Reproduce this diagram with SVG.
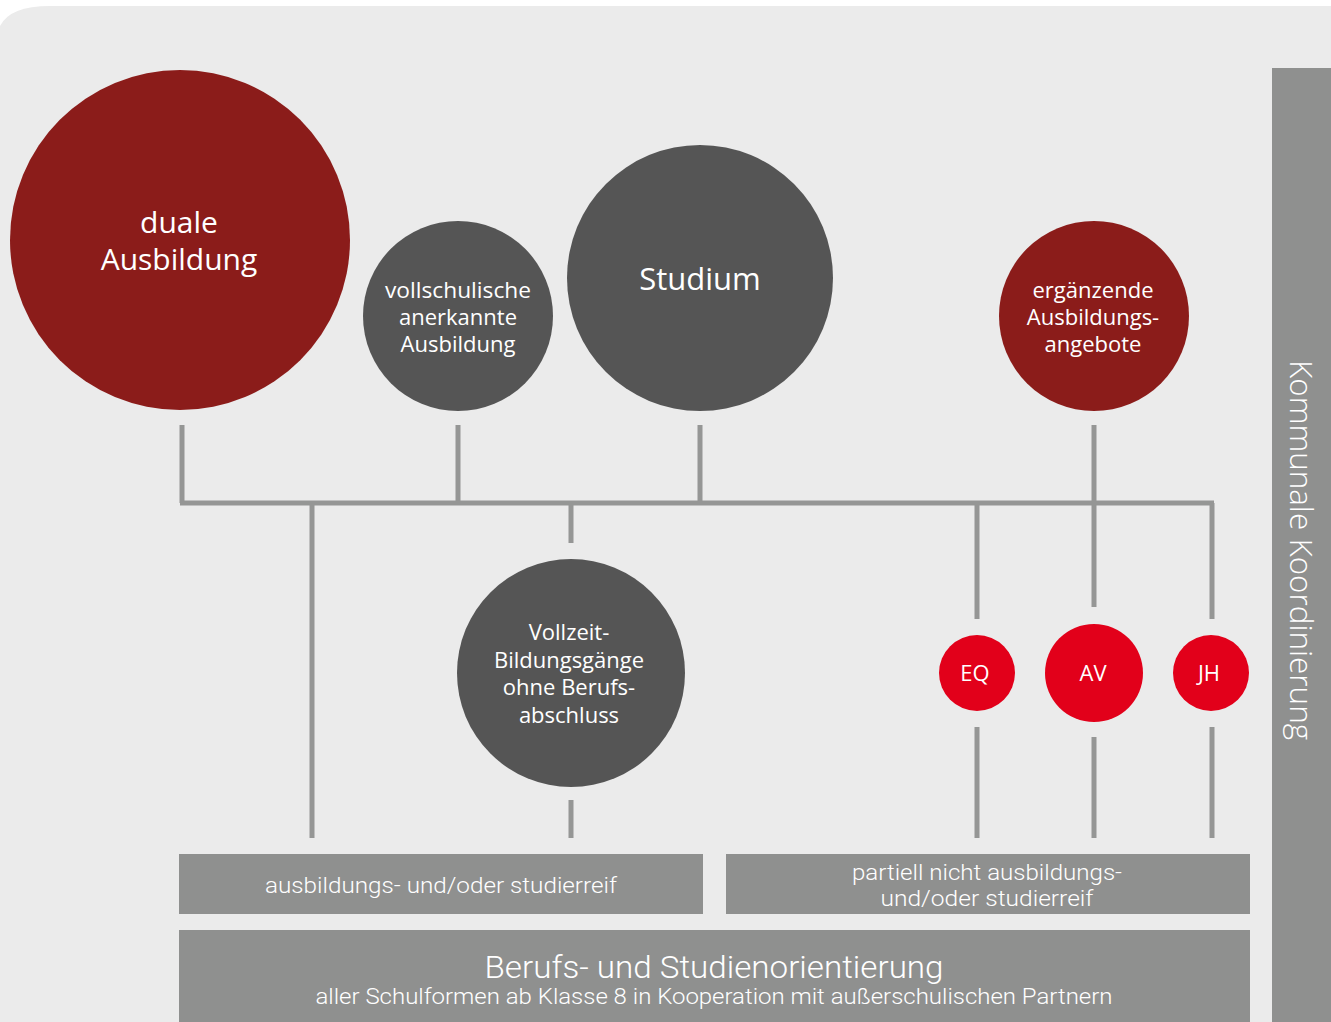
<svg xmlns="http://www.w3.org/2000/svg" width="1331" height="1022" viewBox="0 0 1331 1022">
<style>
.t{font-family:"Open Sans","Noto Sans","DejaVu Sans",sans-serif;fill:#ffffff;text-anchor:middle}
.b{font-family:Roboto,"Liberation Sans",sans-serif;font-weight:300;fill:#ffffff;text-anchor:middle}
.ln{stroke:#959695;stroke-width:5;fill:none}
.dark{fill:#8b1c1a}
.grey{fill:#555555}
.red{fill:#e2001a}
.box{fill:#8f908f}
</style>
<rect width="1331" height="1022" fill="#ffffff"/>
<path d="M0,26 Q10,6 50,6 L1331,6 L1331,1022 L0,1022 Z" fill="#ebebeb"/>
<g id="bar"><rect class="box" x="1272" y="68" width="59" height="954"/>
<text class="t" transform="translate(1290,550) rotate(90)" font-size="31" font-weight="300" textLength="380" lengthAdjust="spacingAndGlyphs">Kommunale Koordinierung</text></g>
<g id="connectors">
<path class="ln" d="M182,425 V503 M180,503 H1214 M458,425 V503 M700,425 V503 M1094,425 V607 M312,503 V838 M571,503 V543 M977,503 V619 M1212,503 V619 M571,800 V838 M977,727 V838 M1094,737 V838 M1212,727 V838"/>
</g>
<g id="duale"><circle class="dark" cx="180" cy="240" r="170"/>
<text class="t" font-size="30"><tspan x="179" y="233">duale</tspan><tspan x="179" y="270">Ausbildung</tspan></text></g>
<g id="vollschulisch"><circle class="grey" cx="458" cy="316" r="95"/>
<text class="t" font-size="22"><tspan x="458" y="298" textLength="146" lengthAdjust="spacingAndGlyphs">vollschulische</tspan><tspan x="458" y="325">anerkannte</tspan><tspan x="458" y="352">Ausbildung</tspan></text></g>
<g id="studium"><circle class="grey" cx="700" cy="278" r="133"/>
<text class="t" font-size="31" x="700" y="290">Studium</text></g>
<g id="ergaenzend"><circle class="dark" cx="1094" cy="316" r="95"/>
<text class="t" font-size="22"><tspan x="1093" y="298">ergänzende</tspan><tspan x="1093" y="325">Ausbildungs-</tspan><tspan x="1093" y="352">angebote</tspan></text></g>
<g id="vollzeit"><circle class="grey" cx="571" cy="673" r="114"/>
<text class="t" font-size="22"><tspan x="569" y="640">Vollzeit-</tspan><tspan x="569" y="667.5">Bildungsgänge</tspan><tspan x="569" y="695">ohne Berufs-</tspan><tspan x="569" y="722.5">abschluss</tspan></text></g>
<g id="eq"><circle class="red" cx="977" cy="673" r="38"/><text class="t" font-size="22" x="975" y="681">EQ</text></g>
<g id="av"><circle class="red" cx="1094" cy="673" r="49"/><text class="t" font-size="22" x="1093" y="681">AV</text></g>
<g id="jh"><circle class="red" cx="1211" cy="673" r="38"/><text class="t" font-size="22" x="1209" y="681">JH</text></g>
<g id="reif"><rect class="box" x="179" y="854" width="524" height="60"/>
<text class="b" font-size="22" x="441" y="893" textLength="352" lengthAdjust="spacingAndGlyphs">ausbildungs- und/oder studierreif</text></g>
<g id="partiell"><rect class="box" x="726" y="854" width="524" height="60"/>
<text class="b" font-size="22" x="987" y="880" textLength="270" lengthAdjust="spacingAndGlyphs">partiell nicht ausbildungs-</text>
<text class="b" font-size="22" x="987" y="906" textLength="213" lengthAdjust="spacingAndGlyphs">und/oder studierreif</text></g>
<g id="orientierung"><rect class="box" x="179" y="930" width="1071" height="92"/>
<text class="b" font-size="32" x="714" y="978" textLength="459" lengthAdjust="spacingAndGlyphs">Berufs- und Studienorientierung</text>
<text class="b" font-size="22" x="714" y="1004" textLength="797" lengthAdjust="spacingAndGlyphs">aller Schulformen ab Klasse 8 in Kooperation mit außerschulischen Partnern</text></g>
</svg>
